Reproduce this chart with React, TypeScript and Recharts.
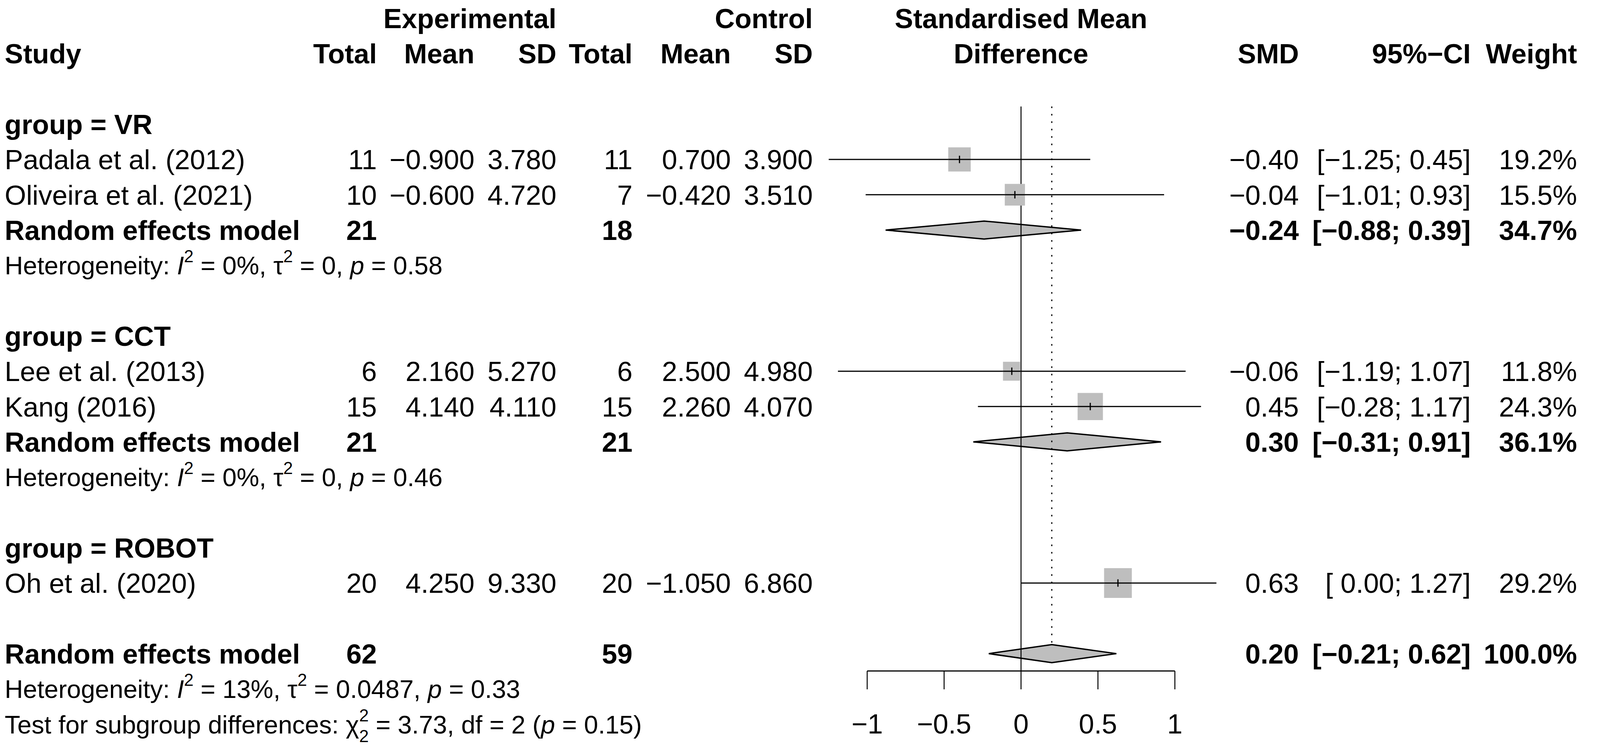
import React from "react";
import {
  ComposedChart,
  XAxis,
  YAxis,
  Scatter,
  Line,
  Area,
  ReferenceLine,
  Customized,
} from "recharts";

/**
 * Forest plot (meta-analysis, SMD by subgroup) drawn with Recharts.
 * Table columns are plain SVG text; squares, CIs, diamonds and the
 * axis go through the chart's own scales.
 */

// ---- data ----
const studyLabels = [
  "Padala et al. (2012)",
  "Oliveira et al. (2021)",
  "Lee et al. (2013)",
  "Kang (2016)",
  "Oh et al. (2020)",
];
const studyRows = [0, 1, 6, 7, 12];
const expTotal = [11, 10, 6, 15, 20];
const expMean = [-0.9, -0.6, 2.16, 4.14, 4.25];
const expSD = [3.78, 4.72, 5.27, 4.11, 9.33];
const ctrlTotal = [11, 7, 6, 15, 20];
const ctrlMean = [0.7, -0.42, 2.5, 2.26, -1.05];
const ctrlSD = [3.9, 3.51, 4.98, 4.07, 6.86];
const smd = [-0.4, -0.04, -0.06, 0.45, 0.63];
const ciLow = [-1.25, -1.01, -1.19, -0.28, 0.0];
const ciHigh = [0.45, 0.93, 1.07, 1.17, 1.27];
const weight = [19.2, 15.5, 11.8, 24.3, 29.2];

const groupNames = ["VR", "CCT", "ROBOT"];
const groupRows = [-1, 5, 11];

const pooledRows = [2, 8, 14];
const pooledExpTotal = [21, 21, 62];
const pooledCtrlTotal = [18, 21, 59];
const pooledSmd = [-0.24, 0.3, 0.2];
const pooledLow = [-0.88, -0.31, -0.21];
const pooledHigh = [0.39, 0.91, 0.62];
const pooledWeight = [34.7, 36.1, 100.0];

const hetRows = [3, 9, 15];
const hetI2 = ["0%", "0%", "13%"];
const hetTau2 = ["0", "0", "0.0487"];
const hetP = ["0.58", "0.46", "0.33"];

const subgroupRow = 16;
const subgroupChi2 = "3.73";
const subgroupDf = "2";
const subgroupP = "0.15";

const xTicks = [-1, -0.5, 0, 0.5, 1];

// ---- layout ----
// the page is 4096 wide, the reference 4394: squeeze x only
const W = 4096;
const H = 1909;
const SX = W / 4394;
const X0 = 2804 * SX; // px of SMD = 0
const XU = 422.5 * SX; // px per SMD unit
const Y0 = 408; // px of row 0
const ROW = 90.33;
const AXIS_Y = 1717;
const X_MIN = -X0 / XU;
const X_MAX = (W - X0) / XU;
const Y_MIN = -Y0 / ROW;
const Y_MAX = (AXIS_Y - Y0) / ROW;
const DIAMOND_H = 23 / ROW;
const SQ = 14.1; // square side per sqrt(weight)

const FONT = '"Liberation Sans", Arial, Helvetica, sans-serif';
const FS = 70.5;
const FS_SMALL = 65;
const SUP_FS = 44;
const SUP_RISE = 31;

const COL_STUDY = 13 * SX;
const COL_E_TOTAL = 1035 * SX;
const COL_E_MEAN = 1303 * SX;
const COL_E_SD = 1528 * SX;
const COL_C_TOTAL = 1737 * SX;
const COL_C_MEAN = 2007 * SX;
const COL_C_SD = 2232 * SX;
const COL_SMD = 3567 * SX;
const COL_CI = 4039 * SX;
const COL_W = 4331 * SX;

const GRAY = "#BEBEBE";

const minus = (s: string) => s.replace(/-/g, "\u2212");
const f = (v: number, d: number) => minus(v.toFixed(d));
const ci = (lo: number, hi: number) =>
  `[${lo >= 0 ? " " : ""}${f(lo, 2)}; ${f(hi, 2)}]`;
const rowY = (k: number) => Y0 + k * ROW;

const squareData = smd.map((v, i) => ({ x: v, y: studyRows[i], w: weight[i] }));
const ciData = studyRows.map((r, i) => [
  { x: ciLow[i], y: r },
  { x: ciHigh[i], y: r },
]);
const diamondData = pooledRows.map((r, i) => [
  { x: pooledLow[i], band: [r, r] },
  { x: pooledSmd[i], band: [r - DIAMOND_H, r + DIAMOND_H] },
  { x: pooledHigh[i], band: [r, r] },
]);
const overall = pooledRows.length - 1;

function Square(props: any) {
  const { cx, cy, payload } = props;
  if (cx == null || cy == null) return null;
  const s = SQ * Math.sqrt(payload.w);
  const sw = s * SX;
  return (
    <g>
      <rect x={cx - sw / 2} y={cy - s / 2} width={sw} height={s} fill={GRAY} />
      <line x1={cx - sw / 2} x2={cx + sw / 2} y1={cy} y2={cy} stroke="#000" strokeWidth={3} />
      <line x1={cx} x2={cx} y1={cy - 9.5} y2={cy + 9.5} stroke="#000" strokeWidth={3} />
    </g>
  );
}

function T({
  x,
  k,
  anchor = "start",
  bold = false,
  size = FS,
  children,
}: {
  x: number;
  k: number;
  anchor?: "start" | "middle" | "end";
  bold?: boolean;
  size?: number;
  children: React.ReactNode;
}) {
  return (
    <text
      x={x}
      y={rowY(k) + 0.358 * size}
      textAnchor={anchor}
      fontWeight={bold ? "bold" : "normal"}
      fontSize={size}
      fontFamily={FONT}
      fill="#000"
      style={{ whiteSpace: "pre" }}
    >
      {children}
    </text>
  );
}

function Table() {
  return (
    <g>
      {/* header */}
      <T x={COL_E_SD} k={-4} anchor="end" bold>Experimental</T>
      <T x={COL_C_SD} k={-4} anchor="end" bold>Control</T>
      <T x={X0} k={-4} anchor="middle" bold>Standardised Mean</T>
      <T x={COL_STUDY} k={-3} bold>Study</T>
      <T x={COL_E_TOTAL} k={-3} anchor="end" bold>Total</T>
      <T x={COL_E_MEAN} k={-3} anchor="end" bold>Mean</T>
      <T x={COL_E_SD} k={-3} anchor="end" bold>SD</T>
      <T x={COL_C_TOTAL} k={-3} anchor="end" bold>Total</T>
      <T x={COL_C_MEAN} k={-3} anchor="end" bold>Mean</T>
      <T x={COL_C_SD} k={-3} anchor="end" bold>SD</T>
      <T x={X0} k={-3} anchor="middle" bold>Difference</T>
      <T x={COL_SMD} k={-3} anchor="end" bold>SMD</T>
      <T x={COL_CI} k={-3} anchor="end" bold>{"95%\u2212CI"}</T>
      <T x={COL_W} k={-3} anchor="end" bold>Weight</T>

      {groupNames.map((g, i) => (
        <T key={g} x={COL_STUDY} k={groupRows[i]} bold>{`group = ${g}`}</T>
      ))}

      {studyLabels.map((s, i) => {
        const k = studyRows[i];
        return (
          <g key={s}>
            <T x={COL_STUDY} k={k}>{s}</T>
            <T x={COL_E_TOTAL} k={k} anchor="end">{String(expTotal[i])}</T>
            <T x={COL_E_MEAN} k={k} anchor="end">{f(expMean[i], 3)}</T>
            <T x={COL_E_SD} k={k} anchor="end">{f(expSD[i], 3)}</T>
            <T x={COL_C_TOTAL} k={k} anchor="end">{String(ctrlTotal[i])}</T>
            <T x={COL_C_MEAN} k={k} anchor="end">{f(ctrlMean[i], 3)}</T>
            <T x={COL_C_SD} k={k} anchor="end">{f(ctrlSD[i], 3)}</T>
            <T x={COL_SMD} k={k} anchor="end">{f(smd[i], 2)}</T>
            <T x={COL_CI} k={k} anchor="end">{ci(ciLow[i], ciHigh[i])}</T>
            <T x={COL_W} k={k} anchor="end">{`${weight[i].toFixed(1)}%`}</T>
          </g>
        );
      })}

      {pooledRows.map((k, i) => (
        <g key={k}>
          <T x={COL_STUDY} k={k} bold>Random effects model</T>
          <T x={COL_E_TOTAL} k={k} anchor="end" bold>{String(pooledExpTotal[i])}</T>
          <T x={COL_C_TOTAL} k={k} anchor="end" bold>{String(pooledCtrlTotal[i])}</T>
          <T x={COL_SMD} k={k} anchor="end" bold>{f(pooledSmd[i], 2)}</T>
          <T x={COL_CI} k={k} anchor="end" bold>{ci(pooledLow[i], pooledHigh[i])}</T>
          <T x={COL_W} k={k} anchor="end" bold>{`${pooledWeight[i].toFixed(1)}%`}</T>
        </g>
      ))}

      {hetRows.map((k, i) => (
        <T key={k} x={COL_STUDY} k={k} size={FS_SMALL}>
          <tspan>{"Heterogeneity: "}</tspan>
          <tspan fontStyle="italic">I</tspan>
          <tspan dy={-SUP_RISE} fontSize={SUP_FS}>2</tspan>
          <tspan dy={SUP_RISE}>{` = ${hetI2[i]}, \u03C4`}</tspan>
          <tspan dy={-SUP_RISE} fontSize={SUP_FS}>2</tspan>
          <tspan dy={SUP_RISE}>{` = ${hetTau2[i]}, `}</tspan>
          <tspan fontStyle="italic">p</tspan>
          <tspan>{` = ${hetP[i]}`}</tspan>
        </T>
      ))}

      <T x={COL_STUDY} k={subgroupRow} size={FS_SMALL}>
        <tspan>{"Test for subgroup differences: \u03C7"}</tspan>
        <tspan dy={-SUP_RISE} fontSize={SUP_FS}>2</tspan>
        <tspan dx={-SUP_FS * 0.556} dy={SUP_RISE + 22} fontSize={SUP_FS}>{subgroupDf}</tspan>
        <tspan dy={-22}>{` = ${subgroupChi2}, df = ${subgroupDf} (`}</tspan>
        <tspan fontStyle="italic">p</tspan>
        <tspan>{` = ${subgroupP})`}</tspan>
      </T>
    </g>
  );
}

export default function App() {
  return (
    <div style={{ position: "absolute", left: 0, top: 0, width: W, height: H, background: "#fff" }}>
      <ComposedChart width={W} height={H} margin={{ top: 0, right: 0, bottom: 0, left: 0 }}>
        <XAxis
          type="number"
          dataKey="x"
          domain={[X_MIN, X_MAX]}
          allowDataOverflow
          ticks={xTicks}
          interval={0}
          tickFormatter={(v: number) => minus(String(v))}
          height={H - AXIS_Y}
          axisLine={false}
          tickLine={{ stroke: "#000", strokeWidth: 2.5 }}
          tickSize={47}
          tickMargin={63}
          tick={{ fill: "#000", fontSize: FS, fontFamily: FONT }}
        />
        <YAxis type="number" dataKey="y" domain={[Y_MIN, Y_MAX]} allowDataOverflow reversed hide />

        {diamondData.map((d, i) => (
          <Area
            key={`d${i}`}
            data={d}
            dataKey="band"
            type="linear"
            fill={GRAY}
            fillOpacity={1}
            stroke="#000"
            strokeWidth={3.5}
            dot={false}
            activeDot={false}
            isAnimationActive={false}
          />
        ))}

        <ReferenceLine
          segment={[
            { x: 0, y: -1.5 },
            { x: 0, y: Y_MAX },
          ]}
          stroke="#000"
          strokeWidth={2.5}
          ifOverflow="visible"
        />
        <ReferenceLine
          segment={[
            { x: pooledSmd[overall], y: -1.5 },
            { x: pooledSmd[overall], y: pooledRows[overall] - DIAMOND_H },
          ]}
          stroke="#000"
          strokeWidth={3}
          strokeDasharray="4 15"
          ifOverflow="visible"
        />
        <ReferenceLine
          segment={[
            { x: xTicks[0], y: Y_MAX },
            { x: xTicks[xTicks.length - 1], y: Y_MAX },
          ]}
          stroke="#000"
          strokeWidth={3}
          ifOverflow="visible"
        />

        <Scatter data={squareData} shape={<Square />} isAnimationActive={false} />

        {ciData.map((d, i) => (
          <Line
            key={`ci${i}`}
            data={d}
            dataKey="y"
            type="linear"
            stroke="#000"
            strokeWidth={3}
            dot={false}
            activeDot={false}
            isAnimationActive={false}
          />
        ))}

        <Customized component={<Table />} />
      </ComposedChart>
    </div>
  );
}
